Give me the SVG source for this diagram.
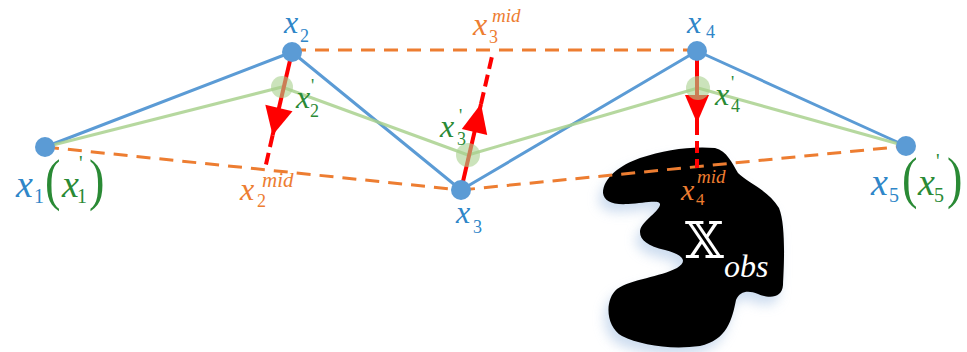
<svg xmlns="http://www.w3.org/2000/svg" width="967" height="352" viewBox="0 0 967 352" font-family="'Liberation Serif', 'DejaVu Serif', serif">
<style>
text{font-family:"Liberation Serif","DejaVu Serif",serif}
.i{font-style:italic}
.b{fill:#2f86c8}
.g{fill:#2a8a35}
.o{fill:#ed7d31}
.w{fill:#ffffff}
.blue{fill:none;stroke:#5b9bd5;stroke-width:3;stroke-linejoin:round}
.green{fill:none;stroke:#a9d18e;stroke-width:3;stroke-linejoin:round;opacity:0.85}
.orange{fill:none;stroke:#ed7d31;stroke-width:3;stroke-dasharray:14 9}
.red{fill:none;stroke:#ff0000;stroke-width:4}
.redd{fill:none;stroke:#ff0000;stroke-width:4;stroke-dasharray:12 6}
.ah{fill:#ff0000}
.node{fill:#5b9bd5}
.gnode{fill:#a9d18e;opacity:0.6}
</style>
<defs>
<filter id="sh" x="-20%" y="-20%" width="140%" height="140%">
<feGaussianBlur stdDeviation="6"/>
</filter>
<path id="blob" d="M603,193 C603,178 620,165 640,158 C665,150 690,146 715,148 C727,151 732,163 738,173 C748,183 768,190 779,208 C786,225 784,265 783,285 C782,298 770,299 758,294 C748,290 740,291 736,300 C732,320 727,340 700,346 C670,350 640,345 622,336 C606,327 604,300 617,289 C632,279 660,277 677,268 C690,260 680,254 665,250 C648,246 640,240 640,232 C640,222 658,213 660,205 C661,199 645,203 628,204 C612,205 604,201 603,193 Z"/>
</defs>
<rect width="967" height="352" fill="#ffffff"/>
<g id="obstacle">
<use href="#blob" fill="#b9cfe9" opacity="0.7" filter="url(#sh)" transform="translate(-4,8)"/>
<use href="#blob" fill="#000000"/>
<text class="w" x="685" y="258" font-size="50" style="font-family:'DejaVu Serif','DejaVu Sans',serif">𝕏</text>
<text class="i w" x="724" y="277" font-size="32">obs</text>
</g>
<g id="connectors">
<polyline class="blue" points="45,147 292,52 461,190 697,51 906,146"/>
<polyline class="green" points="45,147 282,87 468,155 698,88 906,146"/>
<line class="orange" x1="292" y1="50" x2="697" y2="50"/>
<line class="orange" x1="45" y1="147" x2="461" y2="190"/>
<line class="orange" x1="461" y1="190" x2="906" y2="146"/>
<line class="red" x1="292" y1="52" x2="272.6" y2="135.3"/>
<line class="redd" x1="272.6" y1="135.3" x2="265.2" y2="168"/>
<polygon class="ah" points="265.3,104.8 292.5,111.2 272.6,135.3"/>
<line class="red" x1="461" y1="190" x2="481" y2="104"/>
<line class="redd" x1="481" y1="104" x2="493" y2="52"/>
<polygon class="ah" points="461.8,129.1 487.2,134.9 481,103.8"/>
<line class="red" x1="697" y1="51" x2="697" y2="123"/>
<line class="redd" x1="697" y1="123" x2="697" y2="168"/>
<polygon class="ah" points="685,95 709,95 697,123"/>
</g>
<g id="node-x2p"><circle class="gnode" cx="282" cy="87" r="11"/>
<text class="i g" x="296" y="108" font-size="32">x</text><text class="g" x="311" y="92" font-size="18">'</text><text class="g" x="310" y="117" font-size="18">2</text></g>
<g id="node-x3p"><circle class="gnode" cx="468" cy="155" r="12"/>
<text class="i g" x="440" y="137" font-size="32">x</text><text class="g" x="459" y="122" font-size="18">'</text><text class="g" x="457" y="145" font-size="18">3</text></g>
<g id="node-x4p"><circle class="gnode" cx="698" cy="88" r="12"/>
<text class="i g" x="715" y="105" font-size="32">x</text><text class="g" x="731" y="89" font-size="18">'</text><text class="g" x="731" y="112" font-size="18">4</text></g>
<g id="node-x1"><circle class="node" cx="45" cy="147" r="10"/>
<text class="i b" x="16" y="197" font-size="38">x</text><text class="b" x="34" y="203" font-size="20">1</text>
<text class="g" transform="translate(45,199) scale(0.8,1)" font-size="58">(</text>
<text class="i g" x="62" y="197" font-size="38">x</text><text class="g" x="79" y="170" font-size="20">'</text><text class="g" x="77" y="203" font-size="20">1</text>
<text class="g" transform="translate(89,199) scale(0.8,1)" font-size="58">)</text></g>
<g id="node-x2"><circle class="node" cx="292" cy="52" r="10"/>
<text class="i b" x="284" y="33" font-size="32">x</text><text class="b" x="300" y="42" font-size="18">2</text></g>
<g id="node-x3"><circle class="node" cx="461" cy="190" r="10"/>
<text class="i b" x="456" y="223" font-size="32">x</text><text class="b" x="473" y="233" font-size="18">3</text></g>
<g id="node-x4"><circle class="node" cx="697" cy="51" r="10"/>
<text class="i b" x="687" y="33" font-size="32">x</text><text class="b" x="706" y="38" font-size="18">4</text></g>
<g id="node-x5"><circle class="node" cx="906" cy="146" r="10"/>
<text class="i b" x="871" y="195" font-size="38">x</text><text class="b" x="889" y="202" font-size="20">5</text>
<text class="g" transform="translate(902,197) scale(0.8,1)" font-size="58">(</text>
<text class="i g" x="918" y="195" font-size="38">x</text><text class="g" x="936" y="168" font-size="20">'</text><text class="g" x="934" y="202" font-size="20">5</text>
<text class="g" transform="translate(947,197) scale(0.8,1)" font-size="58">)</text></g>
<g id="node-x2mid"><text class="i o" x="240" y="200" font-size="32">x</text><text class="o" x="257" y="207" font-size="18">2</text><text class="i o" x="262" y="187" font-size="21">mid</text></g>
<g id="node-x3mid"><text class="i o" x="473" y="35" font-size="32">x</text><text class="o" x="489" y="43" font-size="18">3</text><text class="i o" x="492" y="22" font-size="19">mid</text></g>
<g id="node-x4mid"><text class="i o" x="681" y="200" font-size="30">x</text><text class="o" x="696" y="205" font-size="17">4</text><text class="i o" x="697" y="183" font-size="19">mid</text></g>
</svg>
